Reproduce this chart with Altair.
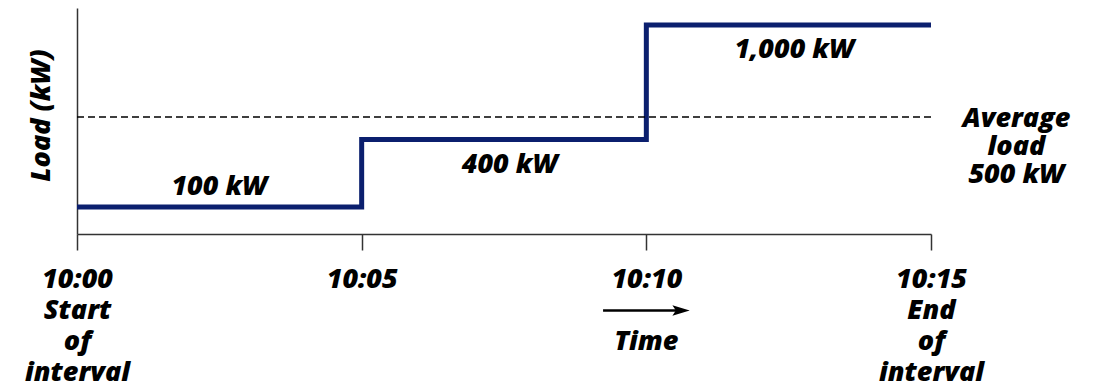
import json
import altair as alt
import pandas as pd

# ---- data ----
step_minutes = [0, 5, 10, 15]
step_load_kw = [100, 400, 1000, 1000]

average_load_kw = 500
interval_start, interval_end = 0, 15

above_labels = ["100 kW"]
above_label_x = [2.5]
above_label_y = [100]

below_labels = ["400 kW", "1,000 kW"]
below_label_x = [7.6, 12.6]
below_label_y = [400, 1000]

avg_label_lines = ["Average", "load", "500 kW"]
avg_label_x = [16.5]

tick_values = [0, 5, 10, 15]
tick_labels = [
    ["10:00", "Start", "of", "interval"],
    ["10:05"],
    ["10:10"],
    ["10:15", "End", "of", "interval"],
]

time_label = ["Time"]
time_label_x = [10]
arrow_x = [9.24, 10.55]  # minutes (time arrow under 10:10)
arrow_tip_x = [10.61]

# ---- styling ----
FONT = "Open Sans"
FS = 27
FW = 800
NAVY = "#0b1f6e"
AXIS_C = "#333333"

W, H = 854, 226

label_expr = " : ".join(
    f"datum.value == {v} ? {json.dumps(l)}" for v, l in zip(tick_values, tick_labels)
) + " : ''"

x_scale = alt.Scale(domain=[interval_start, interval_end], nice=False, zero=False)
y_scale = alt.Scale(domain=[-20, 500, 1092], range=[H, 109, 0], nice=False, zero=False)

step_df = pd.DataFrame({"t": step_minutes, "load": step_load_kw})

base_x_axis = alt.Axis(
    values=tick_values,
    labelExpr=label_expr,
    labelFont=FONT,
    labelFontSize=FS,
    labelFontWeight=FW,
    labelFontStyle="italic",
    labelColor="black",
    labelLineHeight=31,
    labelBaseline="top",
    labelPadding=16,
    labelAngle=0,
    labelFlush=False,
    labelOverlap=False,
    tickSize=16,
    tickColor=AXIS_C,
    tickWidth=1.5,
    domainColor=AXIS_C,
    domainWidth=1.5,
    grid=False,
    title=None,
)
base_y_axis = alt.Axis(
    labels=False,
    ticks=False,
    grid=False,
    domainColor=AXIS_C,
    domainWidth=1.5,
    title="Load (kW)",
    titleFont=FONT,
    titleFontSize=FS,
    titleFontWeight=FW,
    titleFontStyle="italic",
    titleColor="black",
    titleAngle=-90,
    titleBaseline="middle",
    titleAlign="center",
    titleX=-36,
    titleY=107,
)

step = alt.Chart(step_df).mark_line(
    interpolate="step-after", color=NAVY, strokeWidth=5, strokeJoin="miter", clip=False
).encode(
    x=alt.X("t:Q", scale=x_scale, axis=base_x_axis),
    y=alt.Y("load:Q", scale=y_scale, axis=base_y_axis),
)

avg_df = pd.DataFrame({"x": [interval_start], "x2": [interval_end], "y": [average_load_kw]})
avg_rule = alt.Chart(avg_df).mark_rule(
    color="black", strokeWidth=1.5, strokeDash=[7, 4]
).encode(
    x=alt.X("x:Q", scale=x_scale), x2="x2:Q", y=alt.Y("y:Q", scale=y_scale)
)

text_style = dict(font=FONT, fontSize=FS, fontWeight=FW, fontStyle="italic",
                  color="black", clip=False)

above_df = pd.DataFrame({"x": above_label_x, "y": above_label_y, "text": above_labels})
above = alt.Chart(above_df).mark_text(baseline="middle", align="center", dy=-20, **text_style).encode(
    x=alt.X("x:Q", scale=x_scale), y=alt.Y("y:Q", scale=y_scale), text="text:N"
)

below_df = pd.DataFrame({"x": below_label_x, "y": below_label_y, "text": below_labels})
below = alt.Chart(below_df).mark_text(baseline="middle", align="center", dy=25, **text_style).encode(
    x=alt.X("x:Q", scale=x_scale), y=alt.Y("y:Q", scale=y_scale), text="text:N"
)

avg_text_df = pd.DataFrame({"x": avg_label_x, "y": [average_load_kw], "text": ["\n".join(avg_label_lines)]})
avg_text = alt.Chart(avg_text_df).mark_text(
    baseline="alphabetic", align="center", dy=10, lineBreak="\n", lineHeight=28, **text_style
).encode(
    x=alt.X("x:Q", scale=x_scale), y=alt.Y("y:Q", scale=y_scale), text="text:N"
)

time_df = pd.DataFrame({"x": time_label_x, "text": time_label})
time_text = alt.Chart(time_df).mark_text(baseline="alphabetic", align="center", **text_style).encode(
    x=alt.X("x:Q", scale=x_scale), y=alt.value(342), text="text:N"
)

arrow_df = pd.DataFrame({"x": [arrow_x[0]], "x2": [arrow_x[1]]})
arrow_line = alt.Chart(arrow_df).mark_rule(color="black", strokeWidth=2.5, clip=False).encode(
    x=alt.X("x:Q", scale=x_scale), x2="x2:Q", y=alt.value(302.5)
)
tip_df = pd.DataFrame({"x": arrow_tip_x})
arrow_tip = alt.Chart(tip_df).mark_point(
    shape="M-1,-0.6L1,0L-1,0.6L-0.6,0Z", size=300, filled=True, color="black", opacity=1, clip=False
).encode(
    x=alt.X("x:Q", scale=x_scale), y=alt.value(302.5)
)

chart = alt.layer(step, avg_rule, above, below, avg_text, time_text, arrow_line, arrow_tip).properties(
    width=W, height=H,
    autosize=alt.AutoSizeParams(type="none"),
    padding={"left": 69, "top": 0, "right": 163, "bottom": 152},
).configure_view(stroke=None)

chart.save("out.html", embed_options={"renderer": "svg", "actions": False})
